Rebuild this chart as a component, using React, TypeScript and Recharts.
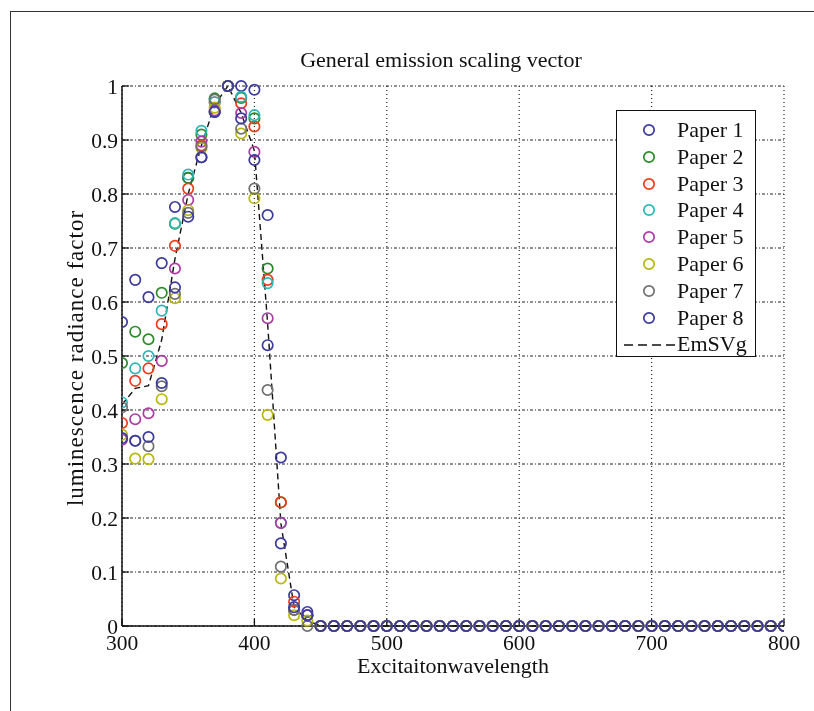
import React from "react";
import {
  ComposedChart,
  Scatter,
  Line,
  XAxis,
  YAxis,
  CartesianGrid,
} from "recharts";

// Excitation wavelengths (nm)
const wavelengths = [
  300, 310, 320, 330, 340, 350, 360, 370, 380, 390, 400, 410, 420, 430, 440,
  450, 460, 470, 480, 490, 500, 510, 520, 530, 540, 550, 560, 570, 580, 590,
  600, 610, 620, 630, 640, 650, 660, 670, 680, 690, 700, 710, 720, 730, 740,
  750, 760, 770, 780, 790, 800,
];

// values beyond 450 nm (all zero in the reference)
const tailZeros = [
  0, 0, 0, 0, 0, 0, 0, 0, 0, 0, 0, 0, 0, 0, 0, 0, 0, 0, 0, 0, 0, 0, 0, 0, 0,
  0, 0, 0, 0, 0, 0, 0, 0, 0, 0, 0,
];

const paper1 = [0.563, 0.641, 0.609, 0.672, 0.776, 0.83, 0.868, 0.952, 1.0, 1.0, 0.993, 0.761, 0.312, 0.057, 0.026, ...tailZeros];
const paper2 = [0.487, 0.545, 0.531, 0.617, 0.745, 0.83, 0.91, 0.977, 1.0, 0.978, 0.94, 0.662, 0.229, 0.03, 0.02, ...tailZeros];
const paper3 = [0.376, 0.454, 0.477, 0.559, 0.704, 0.81, 0.89, 0.97, 1.0, 0.968, 0.925, 0.641, 0.229, 0.045, 0.02, ...tailZeros];
const paper4 = [0.414, 0.477, 0.5, 0.584, 0.746, 0.836, 0.917, 0.97, 1.0, 0.98, 0.946, 0.635, 0.191, 0.03, 0.02, ...tailZeros];
const paper5 = [0.345, 0.383, 0.394, 0.491, 0.662, 0.789, 0.897, 0.955, 1.0, 0.95, 0.878, 0.57, 0.191, 0.03, 0.02, ...tailZeros];
const paper6 = [0.354, 0.31, 0.309, 0.42, 0.607, 0.77, 0.885, 0.96, 1.0, 0.912, 0.792, 0.391, 0.088, 0.02, 0.01, ...tailZeros];
const paper7 = [0.405, 0.343, 0.333, 0.444, 0.615, 0.765, 0.888, 0.975, 1.0, 0.921, 0.81, 0.437, 0.11, 0.03, 0.0, ...tailZeros];
const paper8 = [0.348, 0.343, 0.35, 0.45, 0.627, 0.758, 0.868, 0.952, 1.0, 0.94, 0.863, 0.52, 0.153, 0.035, 0.02, ...tailZeros];
const emsvg = [0.41, 0.44, 0.445, 0.53, 0.68, 0.8, 0.89, 0.965, 1.0, 0.95, 0.88, 0.56, 0.19, 0.035, 0.01, ...tailZeros];

const xTicks = [300, 400, 500, 600, 700, 800];
const yTicks = [0, 0.1, 0.2, 0.3, 0.4, 0.5, 0.6, 0.7, 0.8, 0.9, 1];

const seriesNames = ["Paper 1", "Paper 2", "Paper 3", "Paper 4", "Paper 5", "Paper 6", "Paper 7", "Paper 8"];
const seriesKeys = ["p1", "p2", "p3", "p4", "p5", "p6", "p7", "p8"];
const seriesColors = ["#3a3a9e", "#2a8a2a", "#f23a1a", "#2ab8b8", "#ad3aa5", "#b8b80a", "#707070", "#3a3a9e"];
const seriesValues = [paper1, paper2, paper3, paper4, paper5, paper6, paper7, paper8];

const rows = wavelengths.map((w, i) => {
  const r: Record<string, number> = { x: w, em: emsvg[i] };
  seriesKeys.forEach((k, j) => {
    r[k] = seriesValues[j][i];
  });
  return r;
});

const FONT = "'Liberation Serif', 'DejaVu Serif', serif";
const FS = 22;

const ring = (color: string) => (props: any) => {
  const { cx, cy } = props;
  if (cx == null || cy == null) return <g />;
  return <circle cx={cx} cy={cy} r={5.2} fill="none" stroke={color} strokeWidth={1.7} />;
};

const fmtY = (v: number) => (v === 0 ? "0" : v === 1 ? "1" : String(Math.round(v * 10) / 10));

const axisLine = { stroke: "#111", strokeWidth: 1.5 };
const tickLine = { stroke: "#111", strokeWidth: 1.3 };
const tickFont = { fontFamily: FONT, fontSize: 21.5, fill: "#111" };

export default function App() {
  return (
    <div style={{ position: "relative", width: 798, height: 695, fontFamily: FONT, color: "#111" }}>
      <div
        style={{
          position: "fixed",
          left: 10,
          top: 11,
          width: 804,
          height: 700,
          borderTop: "1.5px solid #333",
          borderLeft: "1.5px solid #333",
          boxSizing: "border-box",
          pointerEvents: "none",
        }}
      />
      <ComposedChart
        width={798}
        height={695}
        data={rows}
        margin={{ top: 78, right: 22, left: 64, bottom: 47 }}
        style={{ position: "absolute", left: 0, top: 0 }}
      >
        <CartesianGrid horizontal={true} vertical={false} stroke="#222" strokeDasharray="3 2 1 2" strokeWidth={1} />
        <CartesianGrid horizontal={false} vertical={true} stroke="#222" strokeDasharray="1 3" strokeWidth={1.2} />
        <XAxis
          type="number"
          dataKey="x"
          domain={[300, 800]}
          ticks={xTicks}
          allowDataOverflow
          height={30}
          tickLine={tickLine}
          tickSize={-7}
          tickMargin={16}
          axisLine={axisLine}
          tick={tickFont}
        />
        <XAxis
          xAxisId="top"
          orientation="top"
          type="number"
          dataKey="x"
          domain={[300, 800]}
          ticks={xTicks}
          allowDataOverflow
          height={0}
          tickLine={tickLine}
          tickSize={-7}
          tick={false}
          axisLine={axisLine}
        />
        <YAxis
          type="number"
          domain={[0, 1]}
          ticks={yTicks}
          width={50}
          tickLine={tickLine}
          tickSize={-7}
          tickMargin={11}
          tickFormatter={fmtY}
          axisLine={axisLine}
          tick={tickFont}
        />
        <YAxis
          yAxisId="right"
          orientation="right"
          type="number"
          domain={[0, 1]}
          ticks={yTicks}
          width={0}
          tickLine={tickLine}
          tickSize={-7}
          tick={false}
          axisLine={axisLine}
        />
        {seriesKeys.map((k, j) => (
          <Scatter
            key={k}
            name={seriesNames[j]}
            dataKey={k}
            isAnimationActive={false}
            shape={ring(seriesColors[j])}
          />
        ))}
        <Line
          type="linear"
          dataKey="em"
          name="EmSVg"
          stroke="#111"
          strokeWidth={1.4}
          strokeDasharray="6 4"
          dot={false}
          activeDot={false}
          isAnimationActive={false}
        />
      </ComposedChart>

      <div
        style={{
          position: "absolute",
          left: 433,
          top: 40,
          transform: "translateX(-50%)",
          fontSize: FS,
          whiteSpace: "nowrap",
          lineHeight: "24px",
        }}
      >
        General emission scaling vector
      </div>
      <div
        style={{
          position: "absolute",
          left: 445,
          top: 647,
          transform: "translateX(-50%)",
          fontSize: FS,
          whiteSpace: "nowrap",
          lineHeight: "22px",
        }}
      >
        Excitaitonwavelength
      </div>
      <div
        style={{
          position: "absolute",
          left: 68,
          top: 350,
          transform: "translate(-50%, -50%) rotate(-90deg)",
          fontSize: 23,
          letterSpacing: "1px",
          whiteSpace: "nowrap",
          lineHeight: "24px",
        }}
      >
        luminescence radiance factor
      </div>

      <div
        style={{
          position: "absolute",
          left: 608,
          top: 102,
          width: 140,
          height: 247,
          border: "1.5px solid #111",
          background: "#fff",
          boxSizing: "border-box",
        }}
      >
        {seriesNames.map((n, j) => (
          <div
            key={n}
            style={{ position: "absolute", left: 0, top: 7 + j * 26.8, height: 24, display: "flex", alignItems: "center" }}
          >
            <svg width={60} height={24} style={{ display: "block" }}>
              <circle cx={32} cy={12} r={5.2} fill="none" stroke={seriesColors[j]} strokeWidth={1.7} />
            </svg>
            <span style={{ fontSize: FS, lineHeight: "24px", whiteSpace: "nowrap" }}>{n}</span>
          </div>
        ))}
        <div
          style={{ position: "absolute", left: 0, top: 7 + 8 * 26.8, height: 24, display: "flex", alignItems: "center" }}
        >
          <svg width={60} height={24} style={{ display: "block" }}>
            <line x1={7} y1={13} x2={60} y2={13} stroke="#111" strokeWidth={1.4} strokeDasharray="9 5" />
          </svg>
          <span style={{ fontSize: FS, lineHeight: "24px", whiteSpace: "nowrap" }}>EmSVg</span>
        </div>
      </div>
    </div>
  );
}
